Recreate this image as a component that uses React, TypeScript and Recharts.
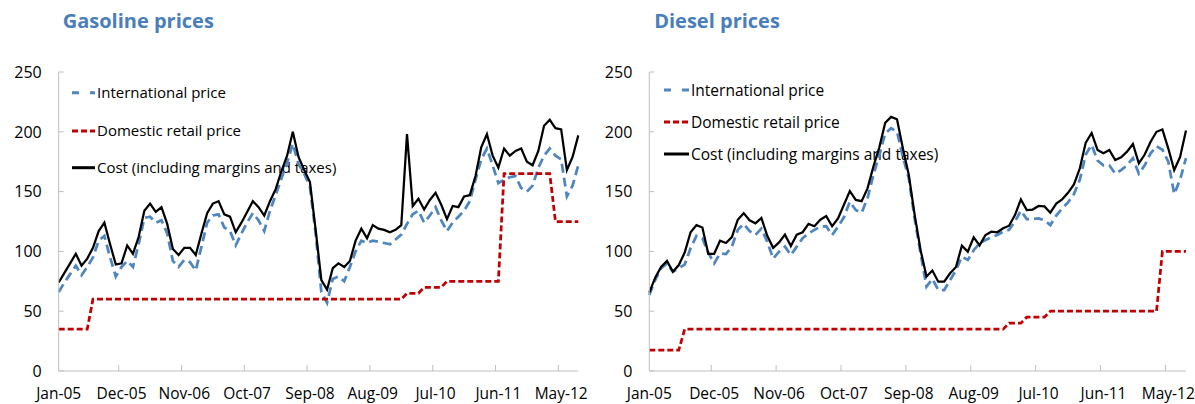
import React from 'react';
import { ComposedChart, Line, XAxis, YAxis, Customized } from 'recharts';

const months = [
  'Jan-05','Feb-05','Mar-05','Apr-05','May-05','Jun-05','Jul-05','Aug-05','Sep-05','Oct-05','Nov-05','Dec-05',
  'Jan-06','Feb-06','Mar-06','Apr-06','May-06','Jun-06','Jul-06','Aug-06','Sep-06','Oct-06','Nov-06','Dec-06',
  'Jan-07','Feb-07','Mar-07','Apr-07','May-07','Jun-07','Jul-07','Aug-07','Sep-07','Oct-07','Nov-07','Dec-07',
  'Jan-08','Feb-08','Mar-08','Apr-08','May-08','Jun-08','Jul-08','Aug-08','Sep-08','Oct-08','Nov-08','Dec-08',
  'Jan-09','Feb-09','Mar-09','Apr-09','May-09','Jun-09','Jul-09','Aug-09','Sep-09','Oct-09','Nov-09','Dec-09',
  'Jan-10','Feb-10','Mar-10','Apr-10','May-10','Jun-10','Jul-10','Aug-10','Sep-10','Oct-10','Nov-10','Dec-10',
  'Jan-11','Feb-11','Mar-11','Apr-11','May-11','Jun-11','Jul-11','Aug-11','Sep-11','Oct-11','Nov-11','Dec-11',
  'Jan-12','Feb-12','Mar-12','Apr-12','May-12','Jun-12','Jul-12','Aug-12',
];

const gasIntl = [
  66, 74, 81, 88, 80, 87, 95, 109, 113, 95, 79, 87,
  92, 87, 106, 128, 129, 124, 126, 115, 92, 87, 93, 91,
  84, 104, 124, 130, 131, 120, 117, 105, 115, 124, 132, 126,
  117, 134, 147, 161, 174, 190, 173, 165, 154, 115, 66, 57,
  77, 79, 75, 87, 100, 109, 107, 109, 108, 107, 106, 110,
  114, 123, 131, 134, 124, 130, 137, 126, 117, 124, 129, 134,
  142, 160, 177, 186, 172, 157, 160, 162, 163, 153, 150, 155,
  170, 180, 186, 180, 177, 146, 155, 172,
];
const gasDomestic = [
  35, 35, 35, 35, 35, 35, 60, 60, 60, 60, 60, 60,
  60, 60, 60, 60, 60, 60, 60, 60, 60, 60, 60, 60,
  60, 60, 60, 60, 60, 60, 60, 60, 60, 60, 60, 60,
  60, 60, 60, 60, 60, 60, 60, 60, 60, 60, 60, 60,
  60, 60, 60, 60, 60, 60, 60, 60, 60, 60, 60, 60,
  60, 65, 65, 65, 70, 70, 70, 70, 75, 75, 75, 75,
  75, 75, 75, 75, 75, 75, 165, 165, 165, 165, 165, 165,
  165, 165, 165, 125, 125, 125, 125, 125,
];
const gasCost = [
  74, 82, 90, 98, 88, 94, 103, 117, 124, 106, 89, 90,
  105, 98, 112, 134, 140, 133, 137, 123, 102, 97, 103, 103,
  97, 115, 132, 140, 142, 131, 129, 116, 124, 133, 142, 137,
  130, 142, 152, 167, 180, 200, 179, 168, 158, 118, 76, 68,
  86, 90, 87, 92, 109, 119, 111, 122, 119, 118, 116, 118,
  122, 198, 138, 144, 135, 143, 149, 139, 127, 138, 137, 146,
  147, 163, 187, 198, 180, 170, 186, 180, 184, 186, 175, 172,
  184, 205, 210, 203, 202, 168, 179, 197,
];

const dslIntl = [
  63.5, 76, 86, 90, 83, 86, 89, 102.6, 113, 111, 99, 90,
  98.4, 97.8, 104, 118, 123, 117, 113.7, 119, 108, 94, 99.8, 104,
  97, 104, 111, 115, 118, 120.7, 121, 113.7, 120.7, 128.5, 141.6, 134.6,
  132.4, 144.4, 164, 180.6, 198.7, 203, 200, 179, 161, 127, 98.4, 70.5,
  77, 67.7, 67.7, 76, 84.4, 95.6, 92.8, 101, 106.7, 109.5, 111.8, 113.7,
  116.5, 118, 125, 134, 127, 127, 127.6, 126, 122, 130, 136, 141,
  148, 160, 181, 189, 176, 172, 172, 165, 168, 172, 178, 165,
  172, 182, 188, 185, 175, 148, 160, 178,
];
const dslDomestic = [
  17.5, 17.5, 17.5, 17.5, 17.5, 17.5, 35, 35, 35, 35, 35, 35,
  35, 35, 35, 35, 35, 35, 35, 35, 35, 35, 35, 35,
  35, 35, 35, 35, 35, 35, 35, 35, 35, 35, 35, 35,
  35, 35, 35, 35, 35, 35, 35, 35, 35, 35, 35, 35,
  35, 35, 35, 35, 35, 35, 35, 35, 35, 35, 35, 35,
  35, 40, 40, 40, 45, 45, 45, 45, 50, 50, 50, 50,
  50, 50, 50, 50, 50, 50, 50, 50, 50, 50, 50, 50,
  50, 50, 50, 100, 100, 100, 100, 100,
];
const dslCost = [
  65.5, 78, 87, 92, 83, 88.6, 99, 116, 122, 120, 98, 98,
  109, 107, 112, 126.5, 132, 126, 123.5, 128, 113, 103, 107.5, 114,
  104.5, 114, 116, 123, 121, 126.5, 129.5, 121, 127.6, 139, 150.5, 143,
  142, 152.7, 171, 187, 207.5, 212.5, 210.5, 186, 164, 130.4, 101, 79,
  84, 74.7, 74.7, 81.7, 87, 104.8, 99.8, 111.8, 105, 113.7, 116.5, 116,
  119.3, 121.5, 130.4, 143.5, 134.6, 135, 138, 137.6, 132.4, 140, 143.5, 149,
  156, 169.5, 191, 199, 184.8, 182, 184.8, 176.4, 178.6, 183.4, 189.8, 173.6,
  181, 191.7, 200, 202, 186, 168, 179, 201,
];

const yTicks = [0, 50, 100, 150, 200, 250];
const seriesNames = ['International price', 'Domestic retail price', 'Cost (including margins and taxes)'];

const FONT = '"Open Sans", "Noto Sans", sans-serif';
const GRAY = '#BFBFBF';
const BLUE = '#4F86C0';
const RED = '#C00000';
const TITLE_BLUE = '#4A7EBB';

function buildRows(intl: number[], dom: number[], cost: number[]) {
  return months.map((m, i) => ({ m, intl: intl[i], dom: dom[i], cost: cost[i] }));
}

function YTick(props: any) {
  const { x, y, payload } = props;
  return (
    <g>
      <line x1={x} x2={x + 5} y1={y} y2={y} stroke={GRAY} strokeWidth={1} />
      <text x={x - 17} y={y} dy="0.36em" textAnchor="end" fontSize={16} fill="#000" fontFamily={FONT}>
        {payload.value}
      </text>
    </g>
  );
}

function XTick(props: any) {
  const { x, y, payload, half } = props;
  return (
    <g>
      {payload.index > 0 && (
        <line x1={x - half} x2={x - half} y1={y} y2={y - 6} stroke={GRAY} strokeWidth={1} />
      )}
      <text x={x} y={y + 28} textAnchor="middle" fontSize={15.5} fill="#000" fontFamily={FONT}>
        {payload.value}
      </text>
    </g>
  );
}

type PanelProps = {
  title: string;
  width: number;
  plotLeft: number;
  plotRight: number;
  titleX: number;
  legendX1: number;
  legendX2: number;
  legendRows: number[];
  legendFont: number;
  intl: number[];
  dom: number[];
  cost: number[];
};

function Panel(p: PanelProps) {
  const data = buildRows(p.intl, p.dom, p.cost);
  const height = 404;
  const yAxisW = 40;
  const xAxisH = 30;
  const plotTop = 72;
  const plotBottom = 371;
  const half = (p.plotRight - p.plotLeft) / months.length / 2;
  const overlay = () => (
    <g>
      <text x={p.titleX} y={28} fontSize={20} fontWeight={700} fill={TITLE_BLUE} fontFamily={FONT}>
        {p.title}
      </text>
      <line x1={p.legendX1} x2={p.legendX2} y1={p.legendRows[0]} y2={p.legendRows[0]} stroke={BLUE} strokeWidth={3} strokeDasharray="7 11" />
      <line x1={p.legendX1} x2={p.legendX2} y1={p.legendRows[1]} y2={p.legendRows[1]} stroke={RED} strokeWidth={3} strokeDasharray="6 3" />
      <line x1={p.legendX1} x2={p.legendX2} y1={p.legendRows[2]} y2={p.legendRows[2]} stroke="#000" strokeWidth={3} />
      {seriesNames.map((s, i) => (
        <text key={s} x={p.legendX2 + 2} y={p.legendRows[i]} dy="0.36em" fontSize={p.legendFont} fill="#000" fontFamily={FONT}>
          {s}
        </text>
      ))}
    </g>
  );
  return (
    <ComposedChart
      width={p.width}
      height={height}
      data={data}
      margin={{ top: plotTop, right: p.width - p.plotRight, bottom: height - plotBottom - xAxisH, left: p.plotLeft - yAxisW }}
    >
      <Customized component={overlay} />
      <XAxis
        dataKey="m"
        interval={10}
        height={xAxisH}
        tickSize={0}
        tickMargin={0}
        tickLine={false}
        axisLine={{ stroke: GRAY }}
        tick={(tp: any) => <XTick {...tp} half={half} />}
      />
      <XAxis xAxisId="top" dataKey="m" orientation="top" height={0} tick={false} tickLine={false} axisLine={{ stroke: GRAY }} />
      <YAxis
        domain={[0, 250]}
        ticks={yTicks}
        width={yAxisW}
        tickSize={0}
        tickMargin={0}
        tickLine={false}
        axisLine={{ stroke: GRAY }}
        tick={(tp: any) => <YTick {...tp} />}
      />
      <YAxis yAxisId="right" orientation="right" domain={[0, 250]} width={0} tick={false} tickLine={false} axisLine={{ stroke: GRAY }} />
      <Line dataKey="intl" stroke={BLUE} strokeWidth={2.75} strokeDasharray="9 5" dot={false} isAnimationActive={false} />
      <Line dataKey="dom" stroke={RED} strokeWidth={2.75} strokeDasharray="6 3" dot={false} isAnimationActive={false} />
      <Line dataKey="cost" stroke="#000" strokeWidth={2.25} dot={false} isAnimationActive={false} />
    </ComposedChart>
  );
}

export default function App() {
  return (
    <div style={{ position: 'absolute', left: 0, top: 0, width: 1195, height: 404, background: '#fff' }}>
      <div style={{ position: 'absolute', left: 0, top: 0 }}>
        <Panel
          title="Gasoline prices"
          width={600}
          plotLeft={58.7}
          plotRight={578.3}
          titleX={62.7}
          legendX1={72}
          legendX2={95}
          legendRows={[92.7, 131, 167.7]}
          legendFont={15}
          intl={gasIntl}
          dom={gasDomestic}
          cost={gasCost}
        />
      </div>
      <div style={{ position: 'absolute', left: 600, top: 0 }}>
        <Panel
          title="Diesel prices"
          width={595}
          plotLeft={49.3}
          plotRight={586}
          titleX={54.2}
          legendX1={64}
          legendX2={89}
          legendRows={[90, 122, 154]}
          legendFont={15.5}
          intl={dslIntl}
          dom={dslDomestic}
          cost={dslCost}
        />
      </div>
    </div>
  );
}
